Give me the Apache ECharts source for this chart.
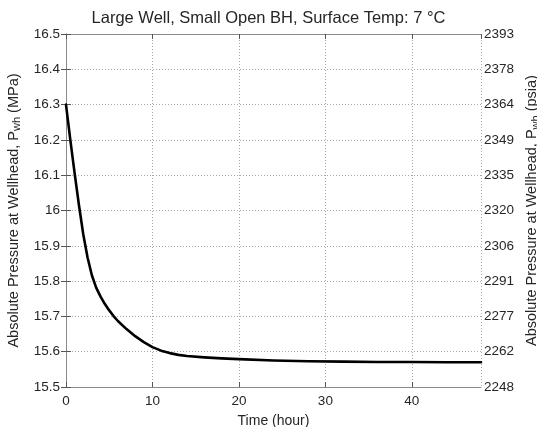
<!DOCTYPE html>
<html>
<head>
<meta charset="utf-8">
<script src="https://cdn.jsdelivr.net/npm/echarts@6/dist/echarts.min.js"></script>
<style>
  html, body { margin: 0; padding: 0; background: #fff; }
  #chart { width: 537px; height: 427px; }
</style>
</head>
<body>
<div id="chart"></div>
<script>
// Wellhead pressure build-down over time
const timeHours = [0, 0.5, 1, 1.5, 2, 2.5, 3, 3.5, 4, 4.5, 5, 5.5, 6, 7, 8, 9, 10, 11, 12, 13, 14, 16, 18, 20, 24, 28, 32, 36, 40, 44, 48];
const pressureMPa = [16.300, 16.200, 16.105, 16.015, 15.932, 15.866, 15.816, 15.781, 15.756, 15.735, 15.717, 15.701, 15.687, 15.664, 15.644, 15.627, 15.613, 15.603, 15.596, 15.591, 15.588, 15.584, 15.581, 15.579, 15.575, 15.573, 15.572, 15.571, 15.571, 15.570, 15.570];

// Tick labels for the psia scale on the right (same positions as the MPa ticks)
const mpaTicks = [15.5, 15.6, 15.7, 15.8, 15.9, 16.0, 16.1, 16.2, 16.3, 16.4, 16.5];
const psiaTicks = ['2248', '2262', '2277', '2291', '2306', '2320', '2335', '2349', '2364', '2378', '2393'];

const FONT = 'Liberation Sans, Arial, sans-serif';
const TEXT = '#262626';
const BOX = '#8a8a8a';
const GRID = '#a8a8a8';

const chart = echarts.init(document.getElementById('chart'), null, { renderer: 'canvas' });

const tickIndex = v => mpaTicks.findIndex(m => Math.abs(m - v) < 1e-6);

const yBase = {
  type: 'value',
  min: 15.5,
  max: 16.5,
  interval: 0.1,
  nameLocation: 'middle',
  nameRotate: 90,
  nameTextStyle: {
    color: TEXT, fontFamily: FONT, fontSize: 14.5,
    rich: { sub: { fontSize: 11, fontFamily: FONT, color: TEXT, padding: [7, 0, 0, 0] } }
  },
  axisLine: { show: true, lineStyle: { color: BOX, width: 1 } },
  axisTick: { show: true, inside: true, length: 5, lineStyle: { color: '#555' } }
};

chart.setOption({
  animation: false,
  backgroundColor: '#ffffff',
  title: {
    text: 'Large Well, Small Open BH, Surface Temp: 7 \u00B0C',
    left: 'center',
    top: 5,
    textStyle: { color: TEXT, fontFamily: FONT, fontSize: 16.5, fontWeight: 'normal' }
  },
  grid: { left: 66, right: 56, top: 34, bottom: 40, containLabel: false, outerBoundsMode: 'none' },
  xAxis: [{
    type: 'value',
    min: 0,
    max: 48,
    interval: 10,
    name: 'Time (hour)',
    nameLocation: 'middle',
    nameGap: 27,
    nameTextStyle: { color: TEXT, fontFamily: FONT, fontSize: 14 },
    axisLine: { show: true, lineStyle: { color: BOX, width: 1 } },
    axisTick: { show: true, inside: true, length: 5, lineStyle: { color: '#555' } },
    axisLabel: { color: TEXT, fontFamily: FONT, fontSize: 13.5, margin: 7, showMaxLabel: false },
    splitLine: { show: true, lineStyle: { color: GRID, type: [1, 2], width: 1 } }
  }, {
    type: 'value',
    position: 'top',
    min: 0,
    max: 48,
    interval: 10,
    axisLine: { show: true, lineStyle: { color: BOX, width: 1 } },
    axisTick: { show: true, inside: true, length: 5, lineStyle: { color: '#555' } },
    axisLabel: { show: false },
    splitLine: { show: false }
  }],
  yAxis: [Object.assign({}, yBase, {
    position: 'left',
    name: 'Absolute Pressure at Wellhead, P{sub|wh} (MPa)',
    nameGap: 38,
    axisLabel: {
      color: TEXT, fontFamily: FONT, fontSize: 13.5, margin: 6,
      formatter: v => {
        const i = tickIndex(v);
        return i < 0 ? '' : String(Number(mpaTicks[i].toFixed(1)));
      }
    },
    splitLine: { show: true, lineStyle: { color: GRID, type: [1, 2], width: 1 } }
  }), Object.assign({}, yBase, {
    position: 'right',
    name: 'Absolute Pressure at Wellhead, P{sub|wh} (psia)',
    nameGap: 35,
    axisLabel: {
      color: TEXT, fontFamily: FONT, fontSize: 13.5, margin: 3,
      formatter: v => {
        const i = tickIndex(v);
        return i < 0 ? '' : psiaTicks[i];
      }
    },
    splitLine: { show: false }
  })],
  series: [{
    type: 'line',
    xAxisIndex: 0,
    yAxisIndex: 0,
    data: timeHours.map((t, i) => [t, pressureMPa[i]]),
    showSymbol: false,
    smooth: false,
    lineStyle: { color: '#000', width: 2.6, join: 'round', cap: 'round' },
    z: 3
  }]
});
</script>
</body>
</html>
